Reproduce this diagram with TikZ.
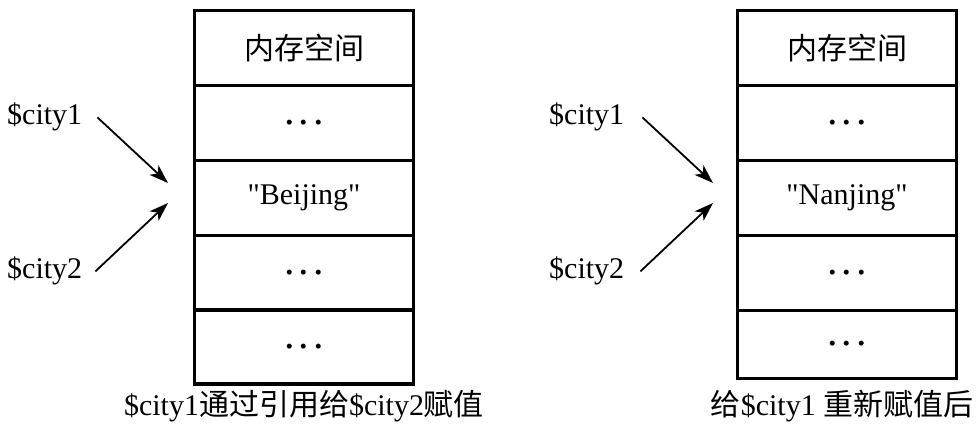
\documentclass[tikz,border=0pt]{standalone}
\usepackage{fontspec}
\setmainfont{Liberation Serif}
\newfontfamily\cjk{Noto Sans CJK SC}
\usetikzlibrary{arrows.meta}
\begin{document}
\begin{tikzpicture}[x=1pt,y=-1pt,
  txt/.style={font=\fontsize{30}{36}\selectfont, inner sep=0pt},
  cell/.style={draw, line width=2.4pt, minimum width=219pt, minimum height=75pt, inner sep=0pt, font=\fontsize{30}{36}\selectfont},
  border/.style={line width=3pt},
  arr/.style={line width=1.8pt, -{Stealth[length=19pt,width=13pt,inset=5pt]}}]
\useasboundingbox (0,0) rectangle (979,434);
\newcommand{\dotsrow}{{\fontsize{42}{42}\selectfont .\hspace{4pt}.\hspace{4pt}.}}
% left box
\node[cell] (L1) at (304,48) {{\cjk 内存空间}};
\node[cell] (L2) at (304,123) {\dotsrow};
\node[cell] (L3) at (304,198) {\textquotedbl Beijing\textquotedbl};
\node[cell] (L4) at (304,273) {\dotsrow};
\node[cell] (L5) at (304,347) {\dotsrow};
\draw[border] (194.5,10.5) rectangle (413.5,383.5);
% right box
\node[cell] (R1) at (847,48) {{\cjk 内存空间}};
\node[cell] (R2) at (847,123) {\dotsrow};
\node[cell] (R3) at (847,198) {\textquotedbl Nanjing\textquotedbl};
\node[cell] (R4) at (847,273) {\dotsrow};
\node[cell, minimum height=68pt] (R5) at (847,344) {\dotsrow};
\draw[border] (737.5,10.5) rectangle (956.5,378);
% labels left
\node[txt, anchor=base west] (c1) at (7,124) {\$city1};
\node[txt, anchor=base west] (c2) at (7,278) {\$city2};
\coordinate (a1) at (168,183);
\coordinate (a2) at (168,203);
\draw[arr] ([shift={(15,1)}]c1.east) -- (a1);
\draw[arr] ([shift={(13,1)}]c2.east) -- (a2);
% labels right
\node[txt, anchor=base west] (c3) at (549,124) {\$city1};
\node[txt, anchor=base west] (c4) at (549,278) {\$city2};
\coordinate (b1) at (713,183);
\coordinate (b2) at (713,203);
\draw[arr] ([shift={(18,1)}]c3.east) -- (b1);
\draw[arr] ([shift={(16,1)}]c4.east) -- (b2);
% captions
\node[txt, anchor=base] (capL) at (304,415) {\$city1{\cjk 通过引用给}\$city2{\cjk 赋值}};
\node[txt, anchor=base] (capR) at (842,415) {{\cjk 给}\$city1 {\cjk 重新赋值后}};
\end{tikzpicture}
\end{document}
